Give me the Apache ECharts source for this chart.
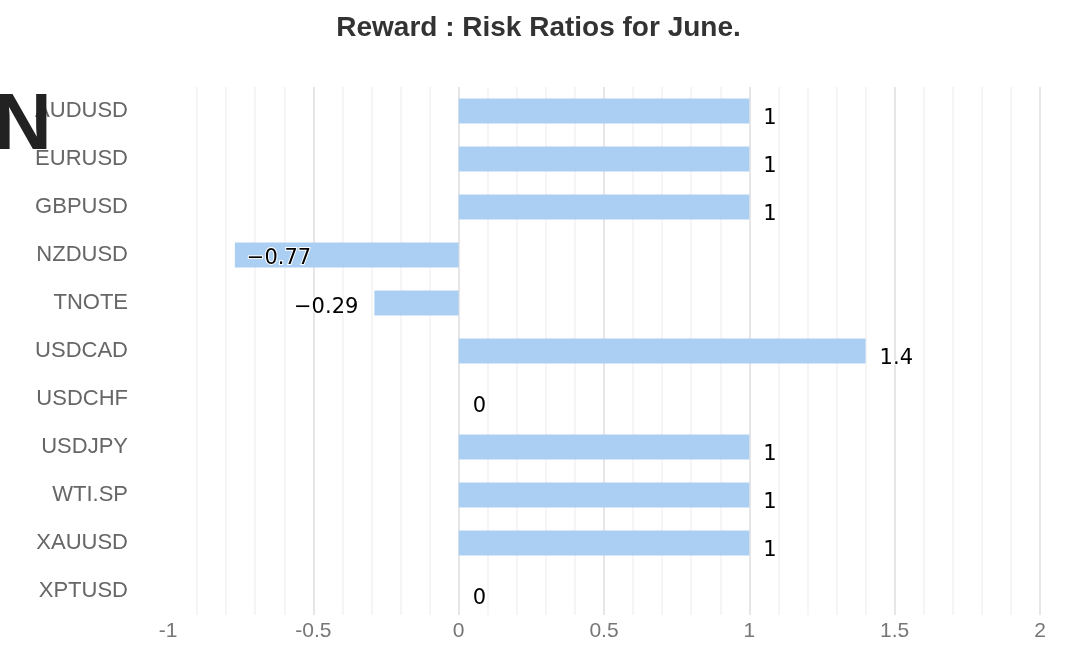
<!DOCTYPE html>
<html>
<head>
<meta charset="utf-8">
<script src="https://cdn.jsdelivr.net/npm/echarts@6/dist/echarts.min.js"></script>
<style>
  html, body { margin: 0; padding: 0; background: #fff; }
  #chart { width: 1077px; height: 662px; }
</style>
</head>
<body>
<div id="chart"></div>
<script>
// symbols top to bottom, and the reward:risk value
var symbols = ['AUDUSD', 'EURUSD', 'GBPUSD', 'NZDUSD', 'TNOTE', 'USDCAD',
               'USDCHF', 'USDJPY', 'WTI.SP', 'XAUUSD', 'XPTUSD'];
var ratios = [1, 1, 1, -0.77, -0.29, 1.4, 0, 1, 1, 1, 0];
var xTicks = [-1, -0.5, 0, 0.5, 1, 1.5, 2];

var chart = echarts.init(document.getElementById('chart'));

var barData = ratios.map(function (v) {
  var lbl;
  if (v < -0.5) {
    // long negative bar: label sits inside the left end
    lbl = { position: 'insideLeft', distance: 12, offset: [0, 4] };
  } else if (v < 0) {
    lbl = { position: 'left', distance: 16, offset: [0, 5] };
  } else {
    lbl = { position: 'right', distance: 14, offset: [0, 8] };
  }
  return { value: v, label: lbl };
});

var option = {
  animation: false,
  backgroundColor: '#fff',
  title: {
    text: 'Reward : Risk Ratios for June.',
    left: 'center',
    top: 9,
    textStyle: {
      fontFamily: 'Liberation Sans',
      fontSize: 28,
      fontWeight: 'bold',
      color: '#333'
    }
  },
  graphic: [{
    type: 'text',
    left: -6,
    top: 87,
    z: 100,
    style: {
      text: 'N',
      fontFamily: 'Liberation Sans',
      fontWeight: 'bold',
      fontSize: 80,
      fill: '#222'
    }
  }],
  grid: { left: 168, right: 37, top: 87, bottom: 47 },
  xAxis: {
    type: 'value',
    min: xTicks[0],
    max: xTicks[xTicks.length - 1],
    interval: 0.5,
    axisLine: { show: false },
    axisTick: { show: false },
    axisLabel: {
      margin: 6,
      fontFamily: 'Liberation Sans',
      fontSize: 21,
      color: '#777'
    },
    splitLine: { show: true, showMinLine: false, lineStyle: { color: '#e6e6e6', width: 2 } },
    minorTick: { show: false, splitNumber: 5 },
    minorSplitLine: { show: true, lineStyle: { color: '#f5f5f5', width: 2 } }
  },
  yAxis: {
    type: 'category',
    data: symbols,
    inverse: true,
    axisLine: { show: false },
    axisTick: { show: false },
    splitLine: { show: false },
    axisLabel: {
      margin: 40,
      fontFamily: 'Liberation Sans',
      fontSize: 22,
      color: '#666'
    }
  },
  series: [{
    type: 'bar',
    data: barData,
    barWidth: 25,
    itemStyle: { color: '#abcff3' },
    label: {
      show: true,
      color: '#000',
      fontFamily: 'DejaVu Sans',
      fontSize: 21,
      textBorderColor: '#fff',
      textBorderWidth: 2,
      formatter: function (p) {
        return String(p.value).replace('-', '\u2212');
      }
    }
  }]
};

chart.setOption(option);
</script>
</body>
</html>
